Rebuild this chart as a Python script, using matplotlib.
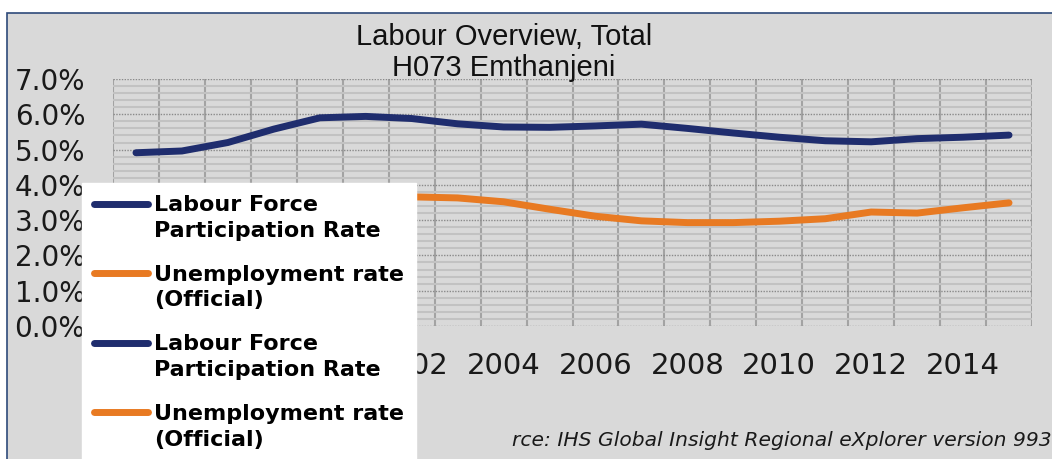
import numpy as np
import matplotlib
matplotlib.use('Agg')
import matplotlib.pyplot as plt
from matplotlib.patches import Rectangle
from matplotlib.ticker import FixedLocator, MultipleLocator, FuncFormatter
from matplotlib.legend_handler import HandlerLine2D

# values (percent)
years = list(range(1996, 2016))
lfpr = [4.91, 4.96, 5.20, 5.58, 5.90, 5.94, 5.88, 5.73, 5.64, 5.63,
        5.67, 5.72, 5.60, 5.47, 5.35, 5.25, 5.22, 5.31, 5.35, 5.41]
unemp = [3.55, 3.60, 3.65, 3.70, 3.72, 3.70, 3.66, 3.63, 3.52, 3.31,
         3.11, 2.98, 2.93, 2.93, 2.97, 3.04, 3.23, 3.20, 3.35, 3.49]
label_years = list(range(1996, 2016, 2))
series_names = ['Labour Force\nParticipation Rate', 'Unemployment rate\n(Official)']

BLUE = '#1F2D6E'
ORANGE = '#E87A22'
BG = '#D9D9D9'

W, H = 1052, 459
fig = plt.figure(figsize=(W / 100, H / 100), dpi=100, facecolor='white')

# chart frame
frame = Rectangle((7 / W, -0.05), 1.1, 1 - 13 / H + 0.05, transform=fig.transFigure,
                  facecolor=BG, edgecolor='#2E4A7A', lw=1.2, zorder=-10)
fig.patches.append(frame)

ax = fig.add_axes([113 / W, 1 - 326 / H, (1032 - 113) / W, (326 - 79) / H])
ax.set_facecolor(BG)
for s in ax.spines.values():
    s.set_visible(False)

l1, = ax.plot(years, lfpr, color=BLUE, lw=5, solid_capstyle='round', solid_joinstyle='round', zorder=3)
l2, = ax.plot(years, unemp, color=ORANGE, lw=5, solid_capstyle='round', solid_joinstyle='round', zorder=3)

ax.set_xlim(1995.5, 2015.5)
ax.set_ylim(0, 7)
ax.xaxis.set_major_locator(FixedLocator(label_years))
ax.xaxis.set_minor_locator(FixedLocator(np.arange(1995.5, 2016, 1)))
ax.yaxis.set_major_locator(MultipleLocator(1))
ax.yaxis.set_minor_locator(MultipleLocator(0.2))
ax.yaxis.set_major_formatter(FuncFormatter(lambda v, p: '%.1f%%' % v))

ax.grid(which='minor', axis='y', color='#C2C2C2', lw=1.5, zorder=0)
ax.grid(which='major', axis='y', color='#8A8A8A', lw=1, linestyle=(0, (1, 1)), zorder=0)
ax.grid(which='minor', axis='x', color='#A3A3A3', lw=1.5, zorder=0)
ax.set_axisbelow(True)

ax.tick_params(which='both', length=0)
ax.tick_params(axis='y', labelsize=20, pad=20, labelcolor='#1a1a1a')
ax.tick_params(axis='x', labelsize=21, pad=19, labelcolor='#1a1a1a')


class TopLine(HandlerLine2D):
    # put the handle level with the first text line
    def create_artists(self, legend, orig_handle, xdescent, ydescent, width, height, fontsize, trans):
        arts = super().create_artists(legend, orig_handle, xdescent, ydescent, width, height, fontsize, trans)
        for a in arts:
            a.set_ydata(np.asarray(a.get_ydata()) + 0.66 * fontsize)
        return arts


leg = ax.legend([l1, l2, l1, l2], series_names * 2,
                loc='upper left', bbox_to_anchor=(82 / W, 1 - 183 / H),
                bbox_transform=fig.transFigure, borderaxespad=0,
                prop={'family': 'DejaVu Sans', 'weight': 'bold', 'size': 16},
                frameon=True, fancybox=False, framealpha=1, edgecolor='white',
                facecolor='white', borderpad=0.55, handlelength=2.4,
                handletextpad=0.3, labelspacing=1.08,
                handler_map={l1: TopLine(), l2: TopLine()})
for t in leg.get_texts():
    t.set_linespacing(1.35)
leg.set_zorder(10)

fig.text(504 / W, 1 - 37 / H, 'Labour Overview, Total', ha='center', va='center',
         family='Liberation Sans', fontsize=21, color='#111111')
fig.text(504 / W, 1 - 68 / H, 'H073 Emthanjeni', ha='center', va='center',
         family='Liberation Sans', fontsize=21, color='#111111')
fig.text(512 / W, 1 - 440 / H, 'rce: IHS Global Insight Regional eXplorer version 993',
         ha='left', va='center', style='italic', fontsize=14.6, color='#1a1a1a')

fig.savefig('out.png', dpi=100, facecolor='white')
